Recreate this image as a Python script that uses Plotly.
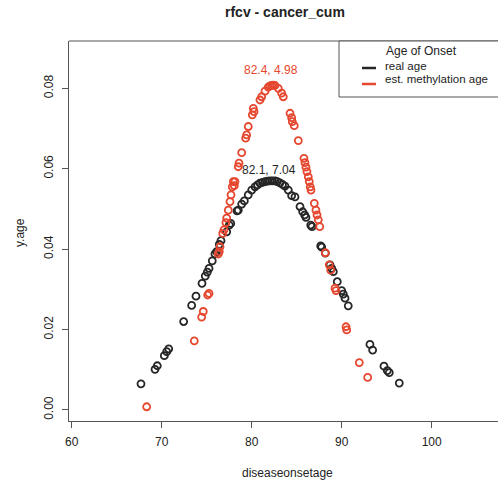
import plotly.graph_objects as go

# ---- data ----
real_x = [67.70, 69.26, 69.51, 70.29, 70.56, 70.78, 72.44, 73.33, 73.81, 74.48,
          74.84, 75.07, 75.26, 75.62, 75.92, 76.11, 76.40, 76.59, 77.22, 77.51,
          77.67, 78.37, 78.51, 78.89, 79.18, 79.62, 80.00, 80.37, 80.65, 80.92,
          81.20, 81.48, 81.75, 82.03, 82.30, 82.59, 82.85, 83.14, 83.42, 83.70,
          84.07, 84.44, 84.81, 85.37, 85.67, 85.89, 86.03, 86.56, 86.70, 87.67,
          87.78, 88.18, 88.70, 88.89, 89.07, 89.51, 90.00, 90.18, 90.37, 90.73,
          93.14, 93.44, 94.70, 95.07, 95.29, 96.40]
real_y = [0.0065, 0.0101, 0.0110, 0.0135, 0.0145, 0.0152, 0.0220, 0.0260, 0.0283, 0.0315,
          0.0333, 0.0343, 0.0352, 0.0371, 0.0388, 0.0394, 0.0412, 0.0421, 0.0443, 0.0460,
          0.0464, 0.0495, 0.0497, 0.0512, 0.0520, 0.0535, 0.0547, 0.0555, 0.0560, 0.0564,
          0.0566, 0.0568, 0.0569, 0.0570, 0.0570, 0.0570, 0.0568, 0.0565, 0.0561, 0.0557,
          0.0547, 0.0533, 0.0530, 0.0506, 0.0493, 0.0485, 0.0479, 0.0460, 0.0456, 0.0408,
          0.0405, 0.0390, 0.0361, 0.0352, 0.0344, 0.0319, 0.0297, 0.0288, 0.0278, 0.0259,
          0.0163, 0.0149, 0.0109, 0.0098, 0.0093, 0.0067]

meth_x = [68.33, 73.62, 74.44, 74.62, 75.11, 75.26, 76.29, 76.40, 76.48, 76.78,
          76.92, 77.14, 77.22, 77.40, 77.59, 77.70, 77.84, 77.96, 78.07, 78.14,
          78.51, 78.59, 78.89, 79.33, 79.44, 79.62, 80.07, 80.18, 80.26, 80.92,
          81.11, 81.48, 81.84, 82.03, 82.22, 82.40, 82.59, 82.96, 83.33, 83.51,
          84.26, 84.44, 84.51, 84.73, 85.18, 85.81, 85.92, 86.03, 86.14, 86.29,
          86.40, 86.51, 86.59, 86.96, 87.14, 87.26, 87.40, 87.56, 88.18, 88.62,
          88.78, 89.26, 89.37, 90.48, 90.56, 91.96, 92.89]
meth_y = [0.0008, 0.0172, 0.0231, 0.0245, 0.0286, 0.0290, 0.0388, 0.0394, 0.0406, 0.0439,
          0.0448, 0.0466, 0.0477, 0.0497, 0.0518, 0.0535, 0.0555, 0.0568, 0.0558, 0.0568,
          0.0605, 0.0614, 0.0640, 0.0676, 0.0684, 0.0705, 0.0734, 0.0750, 0.0742, 0.0771,
          0.0779, 0.0793, 0.0803, 0.0806, 0.0807, 0.0808, 0.0807, 0.0800, 0.0788, 0.0779,
          0.0738, 0.0727, 0.0717, 0.0707, 0.0670, 0.0626, 0.0615, 0.0604, 0.0593, 0.0580,
          0.0568, 0.0555, 0.0547, 0.0514, 0.0497, 0.0485, 0.0473, 0.0456, 0.0391, 0.0361,
          0.0348, 0.0303, 0.0297, 0.0207, 0.0199, 0.0118, 0.0081]

x_ticks = [60, 70, 80, 90, 100]
y_ticks = [0.00, 0.02, 0.04, 0.06, 0.08]
y_tick_labels = ["0.00", "0.02", "0.04", "0.06", "0.08"]

series_names = ["real age", "est. methylation age"]
label_real = "82.1, 7.04"
label_meth = "82.4, 4.98"
title_text = "rfcv - cancer_cum"
legend_title = "Age of Onset"

# ---- styling ----
BLACK = "#262626"
RED = "#e5472f"
AXIS = "#555555"
FONT = "Liberation Sans, Arial, sans-serif"

W, H = 498, 486
L, R, T, B = 69, 0, 41, 65
PW, PH = W - L - R, H - T - B


def px(xp):
    return (xp - L) / PW


def py(yp):
    return (H - B - yp) / PH


fig = go.Figure()
fig.add_trace(go.Scatter(
    x=real_x, y=real_y, mode="markers", name=series_names[0],
    marker=dict(symbol="circle-open", size=7, color=BLACK, line=dict(width=1.8, color=BLACK)),
))
fig.add_trace(go.Scatter(
    x=meth_x, y=meth_y, mode="markers", name=series_names[1],
    marker=dict(symbol="circle-open", size=7, color=RED, line=dict(width=1.8, color=RED)),
))

shapes = [
    # top frame line
    dict(type="line", xref="paper", yref="paper", x0=0, x1=1.02, y0=1, y1=1,
         line=dict(color=AXIS, width=1)),
    # legend box
    dict(type="rect", xref="paper", yref="paper", x0=px(339), x1=px(505), y0=py(97), y1=py(41),
         line=dict(color=AXIS, width=1), fillcolor="white", layer="above"),
    dict(type="line", xref="paper", yref="paper", x0=px(362), x1=px(376), y0=py(68), y1=py(68),
         line=dict(color=BLACK, width=2.5)),
    dict(type="line", xref="paper", yref="paper", x0=px(362), x1=px(376), y0=py(84), y1=py(84),
         line=dict(color=RED, width=2.5)),
]

annotations = [
    dict(text="<b>%s</b>" % title_text, xref="paper", yref="paper", x=px(285), y=py(12),
         showarrow=False, font=dict(size=14, color="#222", family=FONT), xanchor="center", yanchor="middle"),
    dict(text="diseaseonsetage", xref="paper", yref="paper", x=px(287), y=py(473),
         showarrow=False, font=dict(size=12, color="#222", family=FONT), xanchor="center", yanchor="middle"),
    dict(text="y.age", xref="paper", yref="paper", x=px(20), y=py(233), textangle=-90,
         showarrow=False, font=dict(size=12, color="#222", family=FONT), xanchor="center", yanchor="middle"),
    dict(text=legend_title, xref="paper", yref="paper", x=px(421), y=py(51),
         showarrow=False, font=dict(size=12, color="#222", family=FONT), xanchor="center", yanchor="middle"),
    dict(text=series_names[0], xref="paper", yref="paper", x=px(383), y=py(65.5),
         showarrow=False, font=dict(size=11.5, color="#222", family=FONT), xanchor="left", yanchor="middle"),
    dict(text=series_names[1], xref="paper", yref="paper", x=px(383), y=py(78.5),
         showarrow=False, font=dict(size=11.5, color="#222", family=FONT), xanchor="left", yanchor="middle"),
    dict(text=label_meth, x=82.2, y=0.0846, showarrow=False,
         font=dict(size=12, color=RED, family=FONT), xanchor="center", yanchor="middle"),
    dict(text=label_real, x=81.9, y=0.0597, showarrow=False,
         font=dict(size=12, color=BLACK, family=FONT), xanchor="center", yanchor="middle"),
]

fig.update_layout(
    width=W, height=H,
    margin=dict(l=L, r=R, t=T, b=B, pad=0),
    paper_bgcolor="white", plot_bgcolor="white",
    showlegend=False,
    font=dict(family=FONT, size=12, color="#222"),
    shapes=shapes, annotations=annotations,
    hovermode=False,
)
fig.update_xaxes(
    range=[59.70, 107.37], tickvals=x_ticks, ticktext=[str(v) for v in x_ticks],
    showgrid=False, zeroline=False, showline=True, linecolor=AXIS, linewidth=1,
    ticks="outside", ticklen=6, tickcolor=AXIS, tickwidth=1,
    tickfont=dict(size=12, color="#222"), ticklabelstandoff=4,
)
fig.update_yaxes(
    range=[-0.00274, 0.09177], tickvals=y_ticks, ticktext=y_tick_labels,
    showgrid=False, zeroline=False, showline=True, linecolor=AXIS, linewidth=1,
    ticks="outside", ticklen=6, tickcolor=AXIS, tickwidth=1, tickangle=-90,
    tickfont=dict(size=12, color="#222"), ticklabelstandoff=4,
)

fig.write_html("out.html")
